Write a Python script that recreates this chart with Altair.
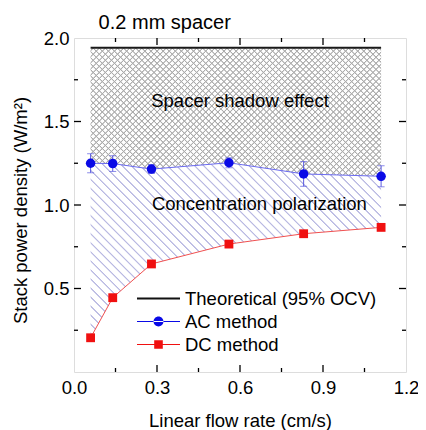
import math
import altair as alt
import pandas as pd

# ---------------- data ----------------
flow = [0.06, 0.14, 0.28, 0.56, 0.83, 1.11]
ac_power = [1.250, 1.248, 1.215, 1.253, 1.186, 1.172]
ac_err = [0.057, 0.047, 0.026, 0.030, 0.074, 0.063]
dc_power = [0.205, 0.445, 0.647, 0.766, 0.828, 0.866]
theoretical = 1.942

legend_names = ["Theoretical (95% OCV)", "AC method", "DC method"]

x_major = [0.3, 0.6, 0.9]
x_minor = [0.15, 0.45, 0.75, 1.05]
y_major = [0.5, 1.0, 1.5]
y_minor = [0.25, 0.75, 1.25, 1.75]
x_labels = [0.0, 0.3, 0.6, 0.9, 1.2]
y_labels = [0.5, 1.0, 1.5, 2.0]

top_text = ["0.2 mm spacer"]
top_text_x = [0.328]
top_text_y = [2.056]
region_text = ["Spacer shadow effect", "Concentration polarization"]
region_text_x = [0.600, 0.670]
region_text_y = [1.584, 0.972]

# ---------------- layout / style ----------------
W, H = 332, 334
FONT = "Arial, Liberation Sans, sans-serif"
FS = 18.5

df = pd.DataFrame({"flow": flow, "ac": ac_power, "dc": dc_power,
                   "theo": [theoretical] * len(flow)})
df["lo"] = [a - e for a, e in zip(ac_power, ac_err)]
df["hi"] = [a + e for a, e in zip(ac_power, ac_err)]

xs = alt.Scale(domain=[0, 1.2], nice=False, zero=False)
ys = alt.Scale(domain=[0, 2.0], nice=False, zero=False)
xaxis = alt.Axis(values=x_labels, format=".1f", ticks=False, domain=False, grid=False,
                 labelFontSize=FS, labelFont=FONT, labelColor="black", labelPadding=6,
                 labelFlush=False, labelOverlap=False,
                 title="Linear flow rate (cm/s)", titleFontSize=FS, titleFont=FONT,
                 titleFontWeight="normal", titleColor="black", titlePadding=15)
yaxis = alt.Axis(values=y_labels, format=".1f", ticks=False, domain=False, grid=False,
                 labelFontSize=FS, labelFont=FONT, labelColor="black", labelPadding=5,
                 labelFlush=False, labelOverlap=False,
                 title="Stack power density (W/m²)", titleFontSize=FS, titleFont=FONT,
                 titleFontWeight="normal", titleColor="black", titlePadding=13, titleY=172)


def X(f):
    return alt.X(f"{f}:Q", scale=xs, axis=xaxis)


def Y(f):
    return alt.Y(f"{f}:Q", scale=ys, axis=yaxis)


px_x = W / 1.2
px_y = H / 2.0


def stripes(bw, bh, direction, period, color_rgb, half_core=0.3, half_edge=0.9):
    """Hatch-like linear gradient (objectBoundingBox units) at 45 degrees."""
    L = (bw + bh) / math.sqrt(2)
    if direction == "/":
        s = (0.0, 0.0)
        g = (1 / bh, 1 / bw)
    else:
        s = (0.0, 1.0)
        g = (1 / bh, -1 / bw)
    c = (1 / bh + 1 / bw) / (1 / bh ** 2 + 1 / bw ** 2)
    e = (s[0] + c * g[0], s[1] + c * g[1])
    col = "rgb(%d,%d,%d)" % color_rgb
    clr = "rgba(%d,%d,%d,0)" % color_rgb
    stops = [alt.GradientStop(color=clr, offset=0)]
    n = int(L / period) + 1
    for i in range(n):
        oc = (i + 0.5) * period
        pts = [(oc - half_edge, clr), (oc - half_core, col), (oc + half_core, col), (oc + half_edge, clr)]
        if pts[0][0] <= 0 or pts[-1][0] >= L:
            continue
        for p, cc in pts:
            stops.append(alt.GradientStop(color=cc, offset=p / L))
    stops.append(alt.GradientStop(color=clr, offset=1))
    return alt.Gradient(gradient="linear", stops=stops, x1=s[0], y1=s[1], x2=e[0], y2=e[1])


bw = (max(flow) - min(flow)) * px_x
bh_up = (theoretical - min(ac_power)) * px_y
bh_low = (max(ac_power) - min(dc_power)) * px_y

base = alt.Chart(df)

cross_a = base.mark_area(fill=stripes(bw, bh_up, "/", 4.3, (172, 172, 172), 0.2, 0.8),
                         strokeWidth=0).encode(x=X("flow"), y=Y("theo"), y2="ac")
cross_b = base.mark_area(fill=stripes(bw, bh_up, "\\", 4.3, (172, 172, 172), 0.2, 0.8),
                         strokeWidth=0).encode(x=X("flow"), y=Y("theo"), y2="ac")
diag = base.mark_area(fill=stripes(bw, bh_low, "\\", 6.4, (185, 185, 226), 0.3, 0.9),
                      strokeWidth=0).encode(x=X("flow"), y=Y("ac"), y2="dc")

theo_df = pd.DataFrame({"x0": [min(flow)], "x1": [max(flow)], "y": [theoretical]})
theo_line = alt.Chart(theo_df).mark_rule(color="#1a1a1a", strokeWidth=2).encode(
    x=X("x0"), x2="x1", y=Y("y"))

err = base.mark_rule(color="#5a5ae0", strokeWidth=1).encode(x=X("flow"), y=Y("lo"), y2="hi")
cap_lo = base.mark_tick(color="#5a5ae0", thickness=1, size=7, orient="horizontal").encode(
    x=X("flow"), y=Y("lo"))
cap_hi = base.mark_tick(color="#5a5ae0", thickness=1, size=7, orient="horizontal").encode(
    x=X("flow"), y=Y("hi"))

ac_line = base.mark_line(color="#6a6af0", strokeWidth=1).encode(x=X("flow"), y=Y("ac"))
ac_pts = base.mark_point(filled=True, shape="circle", size=90, color="#0a0ae6", opacity=1).encode(
    x=X("flow"), y=Y("ac"))
dc_line = base.mark_line(color="#f05050", strokeWidth=1).encode(x=X("flow"), y=Y("dc"))
dc_pts = base.mark_point(filled=True, shape="square", size=78, color="#f01010", opacity=1).encode(
    x=X("flow"), y=Y("dc"))

txt_top = alt.Chart(pd.DataFrame({"t": top_text, "x": top_text_x, "y": top_text_y})).mark_text(
    font=FONT, fontSize=20, color="black", align="center", baseline="alphabetic").encode(
    x=X("x"), y=Y("y"), text="t:N")
txt_reg = alt.Chart(pd.DataFrame({"t": region_text, "x": region_text_x, "y": region_text_y})).mark_text(
    font=FONT, fontSize=FS, color="black", align="center", baseline="alphabetic").encode(
    x=X("x"), y=Y("y"), text="t:N")

# inward ticks on all four sides
MAJ, MIN = 7, 4
xt = pd.DataFrame({"v": x_major + x_minor, "len": [MAJ] * len(x_major) + [MIN] * len(x_minor)})
yt = pd.DataFrame({"v": y_major + y_minor, "len": [MAJ] * len(y_major) + [MIN] * len(y_minor)})
tick_layers = []
for sub in (xt[xt.len == MAJ], xt[xt.len == MIN]):
    ln = int(sub.len.iloc[0])
    tick_layers.append(alt.Chart(sub).mark_rule(color="black", strokeWidth=1.3).encode(
        x=X("v"), y=alt.value(H), y2=alt.value(H - ln)))
    tick_layers.append(alt.Chart(sub).mark_rule(color="black", strokeWidth=1.3).encode(
        x=X("v"), y=alt.value(0), y2=alt.value(ln)))
for sub in (yt[yt.len == MAJ], yt[yt.len == MIN]):
    ln = int(sub.len.iloc[0])
    tick_layers.append(alt.Chart(sub).mark_rule(color="black", strokeWidth=1.3).encode(
        y=Y("v"), x=alt.value(0), x2=alt.value(ln)))
    tick_layers.append(alt.Chart(sub).mark_rule(color="black", strokeWidth=1.3).encode(
        y=Y("v"), x=alt.value(W), x2=alt.value(W - ln)))

# legend built from a shape/colour scale with custom symbol paths
sym_theo = "M-1,-0.05H1V0.05H-1Z"
sym_ac = ("M-1,-0.025H1V0.025H-1Z "
          "M-0.23,0A0.23,0.23 0 1,0 0.23,0A0.23,0.23 0 1,0 -0.23,0Z")
sym_dc = "M-1,-0.025H1V0.025H-1Z M-0.2,-0.2H0.2V0.2H-0.2Z"
leg = alt.Legend(title=None, orient="none", legendX=63, legendY=250, padding=0,
                 symbolSize=43 * 43, clipHeight=21, rowPadding=2, labelOffset=5,
                 labelFontSize=FS, labelFont=FONT, labelColor="black",
                 symbolStrokeWidth=0, symbolOpacity=1, labelLimit=300)
leg_df = pd.DataFrame({"series": legend_names, "x": [0.5] * 3, "y": [0.5] * 3})
legend_layer = alt.Chart(leg_df).transform_filter("false").mark_point(filled=True, opacity=1).encode(
    x=X("x"), y=Y("y"),
    shape=alt.Shape("series:N", scale=alt.Scale(domain=legend_names, range=[sym_theo, sym_ac, sym_dc]),
                    legend=leg),
    color=alt.Color("series:N", scale=alt.Scale(domain=legend_names, range=["#111111", "#0a0ae6", "#f01010"]),
                    legend=leg),
)

chart = alt.layer(
    cross_a, cross_b, diag, theo_line, err, cap_lo, cap_hi,
    ac_line, dc_line, ac_pts, dc_pts, txt_top, txt_reg, *tick_layers, legend_layer
).properties(
    width=W, height=H,
    autosize=alt.AutoSizeParams(type="none"),
    padding={"left": 66, "top": 30, "right": 12, "bottom": 58},
).configure_view(stroke="black", strokeWidth=1.6).configure(background="white")

chart.save("out.html", embed_options={"renderer": "svg", "actions": False})
